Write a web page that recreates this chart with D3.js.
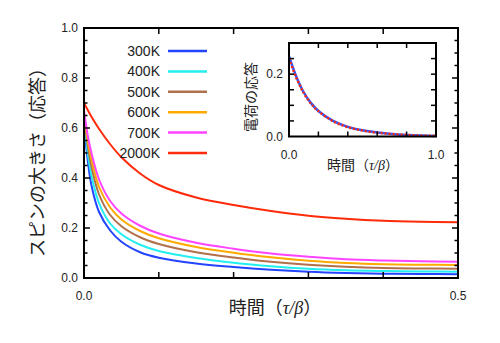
<!DOCTYPE html>
<meta charset="utf-8">
<style>
    body { margin: 0; background: #fff; }
    .tick-label { font-family: "Liberation Sans", Arial, sans-serif; font-size: 12px; fill: #222; }
    .jp { font-family: "Noto Sans CJK JP", sans-serif; fill: #222; }
    .greek { font-family: "Liberation Serif", serif; font-style: italic; }
    .legend text { font-family: "Liberation Sans", Arial, sans-serif; font-size: 14px; fill: #222; }
    .frame { fill: none; stroke: #000; stroke-width: 2; }
    .tick { stroke: #000; stroke-width: 1.5; }
    .curve { fill: none; stroke-width: 2; }
</style>
<svg width="500" height="343"></svg>
<script src="https://d3js.org/d3.v7.min.js"></script>
<script>

    // time grid (tau/beta) for the spin response curves
    var tau = [0, 0.005, 0.01, 0.02, 0.035, 0.05, 0.075, 0.1, 0.15, 0.2, 0.25, 0.3, 0.35, 0.4, 0.45, 0.5];

    var temps = ["300K", "400K", "500K", "600K", "700K", "2000K"];
    var colors = ["#2244ff", "#22eef0", "#b0704c", "#ffaa00", "#ff44ff", "#ff2a0a"];

    var spin300 = [0.62, 0.47, 0.37, 0.265, 0.19, 0.145, 0.103, 0.081, 0.058, 0.044, 0.033, 0.025, 0.020, 0.017, 0.016, 0.015];
    var spin400 = [0.64, 0.50, 0.41, 0.30, 0.218, 0.175, 0.133, 0.108, 0.080, 0.061, 0.047, 0.037, 0.031, 0.028, 0.026, 0.025];
    var spin500 = [0.65, 0.53, 0.445, 0.335, 0.252, 0.207, 0.163, 0.136, 0.103, 0.082, 0.065, 0.053, 0.045, 0.040, 0.038, 0.037];
    var spin600 = [0.66, 0.55, 0.475, 0.365, 0.282, 0.234, 0.188, 0.159, 0.124, 0.101, 0.083, 0.069, 0.060, 0.055, 0.053, 0.052];
    var spin700 = [0.67, 0.57, 0.50, 0.395, 0.308, 0.258, 0.209, 0.178, 0.141, 0.117, 0.098, 0.085, 0.075, 0.070, 0.067, 0.065];
    var spin2000 = [0.70, 0.672, 0.645, 0.597, 0.535, 0.483, 0.418, 0.372, 0.322, 0.292, 0.268, 0.249, 0.237, 0.229, 0.225, 0.223];

    var spinSeries = [spin300, spin400, spin500, spin600, spin700, spin2000];

    // charge response (inset)
    var tauInset = [0, 0.05, 0.1, 0.15, 0.2, 0.3, 0.4, 0.5, 0.6, 0.7, 0.8, 0.9, 1.0];
    var chargeBlue = [0.258, 0.192, 0.142, 0.107, 0.082, 0.050, 0.031, 0.020, 0.013, 0.008, 0.005, 0.003, 0.002];
    var chargeRed = [0.250, 0.188, 0.140, 0.105, 0.081, 0.049, 0.030, 0.019, 0.012, 0.008, 0.005, 0.003, 0.002];

    var mainXTicks = ["0.0", "0.5"];
    var mainYTicks = ["0.0", "0.2", "0.4", "0.6", "0.8", "1.0"];
    var insetXTicks = ["0.0", "1.0"];
    var insetYTicks = ["0.0", "0.2"];

    var svg = d3.select("svg");

    var x = d3.scaleLinear().domain([0, 0.5]).range([84, 458]);
    var y = d3.scaleLinear().domain([0, 1]).range([278, 28]);

    // inward ticks on all four sides of a frame
    function drawTicks(g, xs, ys, xVals, yMajor, yAll, majorLen, minorLen) {
        var x0 = xs.range()[0], x1 = xs.range()[1];
        var y0 = ys.range()[0], y1 = ys.range()[1];
        xVals.forEach(function(v) {
            g.append("line").attr("class", "tick")
                .attr("x1", xs(v)).attr("x2", xs(v)).attr("y1", y0).attr("y2", y0 - majorLen);
            g.append("line").attr("class", "tick")
                .attr("x1", xs(v)).attr("x2", xs(v)).attr("y1", y1).attr("y2", y1 + majorLen);
        });
        yAll.forEach(function(v) {
            var len = yMajor.some(function(m) { return Math.abs(m - v) < 1e-9; }) ? majorLen : minorLen;
            g.append("line").attr("class", "tick")
                .attr("x1", x0).attr("x2", x0 + len).attr("y1", ys(v)).attr("y2", ys(v));
            g.append("line").attr("class", "tick")
                .attr("x1", x1).attr("x2", x1 - len).attr("y1", ys(v)).attr("y2", ys(v));
        });
    }

    // main curves
    var line = d3.line()
        .x(function(d) { return x(d[0]); })
        .y(function(d) { return y(d[1]); })
        .curve(d3.curveCatmullRom.alpha(0.5));

    svg.append("g").selectAll("path")
        .data(spinSeries)
        .enter().append("path")
        .attr("class", "curve")
        .attr("stroke", function(d, i) { return colors[i]; })
        .attr("d", function(d) { return line(d.map(function(v, i) { return [tau[i], v]; })); });

    var mainTicks = svg.append("g");
    drawTicks(mainTicks, x, y, [0.1, 0.2, 0.3, 0.4],
        [0.2, 0.4, 0.6, 0.8], d3.range(1, 20).map(function(i) { return i * 0.05; }), 6, 3.5);

    svg.append("rect").attr("class", "frame")
        .attr("x", 84).attr("y", 28).attr("width", 374).attr("height", 250);

    svg.append("g").selectAll("text")
        .data(mainYTicks)
        .enter().append("text")
        .attr("class", "tick-label")
        .attr("x", 78)
        .attr("y", function(d) { return y(+d); })
        .attr("dy", "0.35em")
        .attr("text-anchor", "end")
        .text(function(d) { return d; });

    svg.append("g").selectAll("text")
        .data(mainXTicks)
        .enter().append("text")
        .attr("class", "tick-label")
        .attr("x", function(d) { return x(+d); })
        .attr("y", 300)
        .attr("text-anchor", "middle")
        .text(function(d) { return d; });

    var xl = svg.append("text").attr("class", "jp")
        .attr("x", 275).attr("y", 314)
        .attr("text-anchor", "middle")
        .attr("font-size", 18);
    xl.append("tspan").text("時間（");
    xl.append("tspan").attr("class", "greek").text("τ/β");
    xl.append("tspan").text("）");

    svg.append("text").attr("class", "jp")
        .attr("transform", "translate(44,158) rotate(-90)")
        .attr("text-anchor", "middle")
        .attr("font-size", 18)
        .text("スピンの大きさ（応答）");

    // legend
    var legend = svg.append("g").attr("class", "legend");
    temps.forEach(function(t, i) {
        var ly = 51 + i * 20.4;
        legend.append("text")
            .attr("x", 160).attr("y", ly).attr("dy", "0.35em")
            .attr("text-anchor", "end")
            .text(t);
        legend.append("line")
            .attr("x1", 168).attr("x2", 207).attr("y1", ly).attr("y2", ly)
            .attr("stroke", colors[i]).attr("stroke-width", 2.5);
    });

    // inset: charge response
    var xi = d3.scaleLinear().domain([0, 1]).range([289, 436]);
    var yi = d3.scaleLinear().domain([0, 0.3]).range([136.5, 43]);

    var inset = svg.append("g");
    var lineI = d3.line()
        .x(function(d) { return xi(d[0]); })
        .y(function(d) { return yi(d[1]); })
        .curve(d3.curveCatmullRom.alpha(0.5));

    inset.append("path")
        .attr("fill", "none").attr("stroke", "#3355ff").attr("stroke-width", 2.5)
        .attr("d", lineI(chargeBlue.map(function(v, i) { return [tauInset[i], v]; })));
    inset.append("path")
        .attr("fill", "none").attr("stroke", "#ff2a0a").attr("stroke-width", 2.5)
        .attr("stroke-dasharray", "2,2")
        .attr("d", lineI(chargeRed.map(function(v, i) { return [tauInset[i], v]; })));

    drawTicks(inset, xi, yi, [0.2, 0.4, 0.6, 0.8],
        [], [0.05, 0.1, 0.15, 0.2, 0.25], 5, 5);

    inset.append("rect").attr("class", "frame")
        .attr("x", 289).attr("y", 43).attr("width", 147).attr("height", 93.5);

    inset.selectAll("text.yl")
        .data(insetYTicks)
        .enter().append("text")
        .attr("class", "tick-label yl")
        .attr("x", 283)
        .attr("y", function(d) { return yi(+d); })
        .attr("dy", "0.35em")
        .attr("text-anchor", "end")
        .text(function(d) { return d; });

    inset.selectAll("text.xl")
        .data(insetXTicks)
        .enter().append("text")
        .attr("class", "tick-label xl")
        .attr("x", function(d) { return xi(+d); })
        .attr("y", 159)
        .attr("text-anchor", "middle")
        .text(function(d) { return d; });

    var ixl = inset.append("text").attr("class", "jp")
        .attr("x", 363).attr("y", 170)
        .attr("text-anchor", "middle")
        .attr("font-size", 14);
    ixl.append("tspan").text("時間（");
    ixl.append("tspan").attr("class", "greek").text("τ/β");
    ixl.append("tspan").text("）");

    inset.append("text").attr("class", "jp")
        .attr("transform", "translate(256,97) rotate(-90)")
        .attr("text-anchor", "middle")
        .attr("font-size", 14)
        .text("電荷の応答");

</script>
